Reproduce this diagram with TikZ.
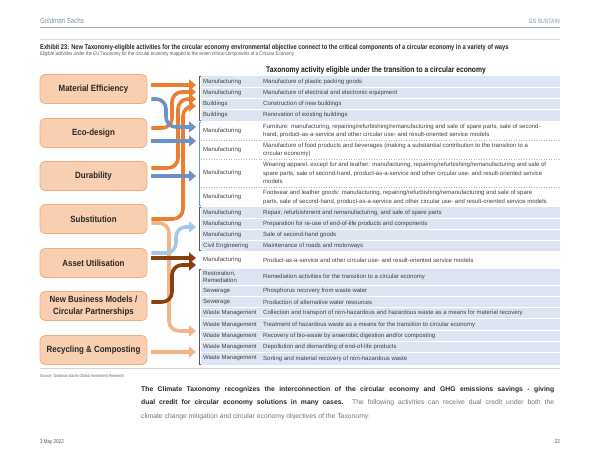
\documentclass[tikz,border=0pt]{standalone}
\usepackage{fontspec}
\setmainfont{Liberation Sans}
\newfontfamily\cnd[FakeStretch=0.82]{Liberation Sans}
\newfontfamily\cndb[FakeStretch=0.88]{Liberation Sans}
\usetikzlibrary{arrows.meta}
\definecolor{hdr}{HTML}{7891B0}
\definecolor{boxfill}{HTML}{F9CFB2}
\definecolor{boxline}{HTML}{F2AC7C}
\definecolor{cOr}{HTML}{ED7D31}
\definecolor{cBl}{HTML}{6A92C9}
\definecolor{cLb}{HTML}{A4C8E8}
\definecolor{cPe}{HTML}{F5B488}
\definecolor{cBr}{HTML}{8A3D0E}
\definecolor{rowbg}{HTML}{DCE5F1}
\definecolor{txt}{HTML}{404040}
\definecolor{brk}{HTML}{555555}
\newcommand\trow[4]{\node[cat] (c#1) at (203,#2) {#3}; \node[desc] (d#1) at (263,#2) {#4};}
\begin{document}
\begin{tikzpicture}[x=1pt,y=-1pt,
  box/.style={rounded corners=5pt, fill=boxfill, draw=boxline, line width=0.8pt,
    minimum width=107pt, minimum height=29pt, align=center, inner sep=1pt,
    font=\cndb\bfseries\fontsize{9}{11.5}\selectfont, text=black!85},
  cat/.style={anchor=west, align=left, inner sep=0pt, text=txt, font=\fontsize{6}{7.5}\selectfont},
  desc/.style={anchor=west, align=left, inner sep=0pt, text=txt, font=\fontsize{6}{8.5}\selectfont},
  arr/.style={line width=3.6pt, -{Triangle[length=7pt,width=11pt]}, rounded corners=10pt},
  sep/.style={white, line width=1pt},
  dsep/.style={gray!60, line width=0.5pt, dotted},
  bracket/.style={brk, line width=0.6pt},
  lbl/.style={inner sep=0pt}]
\useasboundingbox (0,0) rectangle (600,463);
% header
\node[lbl, anchor=west, text=hdr, font=\cnd\fontsize{7.5}{9}\selectfont] (gs) at (40,21) {Goldman Sachs};
\node[lbl, anchor=east, text=hdr, font=\cnd\fontsize{6.3}{8}\selectfont] (gss) at (560,21) {GS SUSTAIN};
\draw[gray!65, line width=1.2pt] (40,27.5) -- (560,27.5);
\draw[gray!30, line width=0.8pt] (40,39.5) -- (560,39.5);
\node[lbl, anchor=west, text=black!85, font=\cnd\bfseries\fontsize{7}{8}\selectfont] (title) at (40,47.3) {Exhibit 23: New Taxonomy-eligible activities for the circular economy environmental objective connect to the critical components of a circular economy in a variety of ways};
\node[lbl, anchor=west, text=black!65, font=\cnd\fontsize{5.35}{7}\selectfont] (sub) at (40,53.8) {Eligible activities under the EU Taxonomy for the circular economy mapped to the seven critical components of a Circular Economy};
\node[lbl, text=black!90, font=\cnd\bfseries\fontsize{8.2}{10}\selectfont] (thead) at (376,70.5) {Taxonomy activity eligible under the transition to a circular economy};
% shading
\fill[rowbg] (201,76) rectangle (560,121);
\fill[rowbg] (201,207) rectangle (560,251);
\fill[rowbg] (201,269) rectangle (560,364.5);
\foreach \yy in {87.25,98.5,109.75,218,229,240,285,296.3,307.6,318.9,330.2,341.5,352.8}
  \draw[sep] (201,\yy) -- (560,\yy);
\foreach \yy in {140,159.2,186.8}
  \draw[dsep] (201,\yy) -- (560,\yy);
\draw[gray!35, line width=0.6pt] (40,368) -- (560,368);
% brackets
\draw[bracket] (201,76.5) -- (199,76.5) -- (199,120.5) -- (201,120.5);
\draw[bracket, cBl] (201,122.5) -- (199,122.5) -- (199,205.5) -- (201,205.5);
\draw[bracket] (201,207.5) -- (199,207.5) -- (199,250.5) -- (201,250.5);
\draw[bracket] (201,269.5) -- (199,269.5) -- (199,364) -- (201,364);
% rows
\trow{1}{81.8}{Manufacturing}{Manufacture of plastic packing goods}
\trow{2}{93}{Manufacturing}{Manufacture of electrical and electronic equipment}
\trow{3}{104.2}{Buildings}{Construction of new buildings}
\trow{4}{115.4}{Buildings}{Renovation of existing buildings}
\trow{5}{130.8}{Manufacturing}{Furniture: manufacturing, repairing/refurbishing/remanufacturing and sale of spare parts, sale of second-\\hand, product-as-a-service and other circular use- and result-oriented service models}
\trow{6}{149.8}{Manufacturing}{Manufacture of food products and beverages (making a substantial contribution to the transition to a\\circular economy)}
\trow{7}{173.2}{Manufacturing}{Wearing apparel, except fur and leather: manufacturing, repairing/refurbishing/remanufacturing and sale of\\spare parts, sale of second-hand, product-as-a-service and other circular use- and result-oriented service\\models}
\trow{8}{197.2}{Manufacturing}{Footwear and leather goods: manufacturing, repairing/refurbishing/remanufacturing and sale of spare\\parts, sale of second-hand, product-as-a-service and other circular use- and result-oriented service models}
\trow{9}{212.5}{Manufacturing}{Repair, refurbishment and remanufacturing, and sale of spare parts}
\trow{10}{223.5}{Manufacturing}{Preparation for re-use of end-of-life products and components}
\trow{11}{234.5}{Manufacturing}{Sale of second-hand goods}
\trow{12}{245.5}{Civil Engineering}{Maintenance of roads and motorways}
\trow{13}{260}{Manufacturing}{Product-as-a-service and other circular use- and result-oriented service models}
\trow{14}{277}{Restoration,\\Remediation}{Remediation activities for the transition to a circular economy}
\trow{15}{290.7}{Sewerage}{Phosphorus recovery from waste water}
\trow{16}{302}{Sewerage}{Production of alternative water resources}
\trow{17}{313.3}{Waste Management}{Collection and transport of non-hazardous and hazardous waste as a means for material recovery}
\trow{18}{324.6}{Waste Management}{Treatment of hazardous waste as a means for the transition to circular economy}
\trow{19}{335.9}{Waste Management}{Recovery of bio-waste by anaerobic digestion and/or composting}
\trow{20}{347.2}{Waste Management}{Depollution and dismantling of end-of-life products}
\trow{21}{358.5}{Waste Management}{Sorting and material recovery of non-hazardous waste}
% boxes
\node[box] (me) at (93.5,89) {Material Efficiency};
\node[box] (ed) at (93.5,133) {Eco-design};
\node[box] (du) at (93.5,176) {Durability};
\node[box] (su) at (93.5,219) {Substitution};
\node[box] (au) at (93.5,263) {Asset Utilisation};
\node[box] (nb) at (93.5,306) {New Business Models /\\Circular Partnerships};
\node[box] (rc) at (93.5,350) {Recycling \& Composting};
% arrow tips
\coordinate (tOr1) at (196,85);
\coordinate (tOr2) at (196,92);
\coordinate (tOr3) at (196,99);
\coordinate (tOr4) at (196,106);
\coordinate (tBl1) at (196,127);
\coordinate (tBl2) at (196,141);
\coordinate (tBl3) at (196,176);
\coordinate (tLb) at (196,227);
\coordinate (tBr1) at (196,258);
\coordinate (tBr2) at (196,265);
\coordinate (tPe1) at (196,331);
\coordinate (tPe2) at (196,352);
% arrows
\draw[arr, cPe] ([shift={(4,4)}]su.east) -| (169,331) -- (tPe1);
\draw[arr, cPe] ([shift={(4,2)}]rc.east) -- (tPe2);
\draw[arr, cLb] ([shift={(4,-10)}]au.east) -| (176,227) -- (tLb);
\draw[arr, cBr] ([shift={(4,-5)}]au.east) -- (tBr1);
\draw[arr, cBr] ([shift={(4,-4)}]nb.east) -| (172,265) -- (tBr2);
\draw[arr, cOr] ([shift={(4,0)}]su.east) -| (183,106) -- (tOr4);
\draw[arr, cOr] ([shift={(4,-8)}]du.east) -| (178,99) -- (tOr3);
\draw[arr, cOr] ([shift={(4,-5)}]ed.east) -| (172,92) -- (tOr2);
\draw[arr, cBl] ([shift={(4,10)}]me.east) -| (166,127) -- (tBl1);
\draw[arr, cOr] ([shift={(4,-4)}]me.east) -- (tOr1);
\draw[arr, cBl] ([shift={(4,8)}]ed.east) -- (tBl2);
\draw[arr, cBl] ([shift={(4,0)}]du.east) -- (tBl3);
% source and text
\node[lbl, anchor=west, text=black!60, font=\cnd\fontsize{4.3}{5}\selectfont] (src) at (40,375.5) {Source: Goldman Sachs Global Investment Research};
\node[lbl, anchor=north west, align=left, font=\fontsize{6.8}{13.5}\selectfont] (para) at (141,386) {%
\makebox[413pt][s]{\textcolor{black!85}{\bfseries The Climate Taxonomy recognizes the interconnection of the circular economy and GHG emissions savings - giving}}\\
\makebox[413pt][s]{\textcolor{black!85}{\bfseries dual credit for circular economy solutions in many cases.} \textcolor{black!55}{The following activities can receive dual credit under both the}}\\
\textcolor{black!55}{climate change mitigation and circular economy objectives of the Taxonomy:}};
\node[lbl, anchor=west, text=black!70, font=\cnd\fontsize{5.5}{7}\selectfont] (date) at (40,442) {3 May 2022};
\node[lbl, anchor=east, text=black!70, font=\cnd\fontsize{5.5}{7}\selectfont] (page) at (560,442) {22};
\end{tikzpicture}
\end{document}
